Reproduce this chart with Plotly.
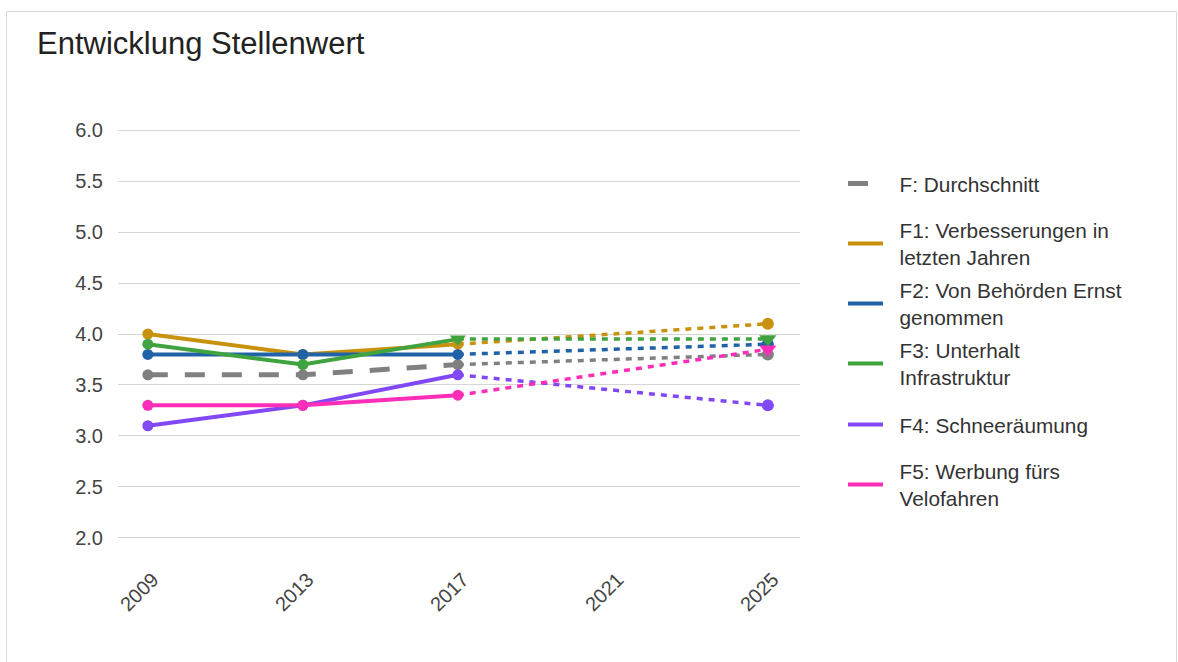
import plotly.graph_objects as go

# ---- data ----
years = [2009, 2013, 2017]
proj_year = 2025
tick_years = [2009, 2013, 2017, 2021, 2025]

series_names = [
    "F: Durchschnitt",
    "F1: Verbesserungen in<br>letzten Jahren",
    "F2: Von Behörden Ernst<br>genommen",
    "F3: Unterhalt<br>Infrastruktur",
    "F4: Schneeräumung",
    "F5: Werbung fürs<br>Velofahren",
]
f_avg = [3.6, 3.6, 3.7]
f1 = [4.0, 3.8, 3.9]
f2 = [3.8, 3.8, 3.8]
f3 = [3.9, 3.7, 3.95]
f4 = [3.1, 3.3, 3.6]
f5 = [3.3, 3.3, 3.4]
proj_2025 = [3.8, 4.1, 3.9, 3.95, 3.3, 3.85]

values = [f_avg, f1, f2, f3, f4, f5]

# ---- styles ----
colors = ["#808080", "#c9920e", "#1f62a8", "#3fa33f", "#8148f5", "#ff2db8"]
obs_symbols = [
    ["circle"] * 3,
    ["circle"] * 3,
    ["circle"] * 3,
    ["circle", "circle", "triangle-down"],
    ["circle"] * 3,
    ["circle"] * 3,
]
proj_symbols = ["circle", "circle", "circle", "triangle-down", "circle", "triangle-down"]
line_dash = ["20px,17px", "solid", "solid", "solid", "solid", "solid"]
line_width = [5, 4, 4, 4, 4, 4]

# plot area geometry (px)
W, H = 1178, 662
L, R, T, B = 118, 800, 125, 543
legend_centers = [184, 244, 304, 364, 425, 485]
pad = "\u00a0\u00a0"


def sym_size(s):
    return 11 if s == "circle" else 14


fig = go.Figure()

# dotted projection segments
for i in range(len(series_names)):
    fig.add_trace(go.Scatter(
        x=[years[-1], proj_year],
        y=[values[i][-1], proj_2025[i]],
        mode="lines",
        line=dict(color=colors[i], width=3.5, dash="6px,6px"),
        showlegend=False,
        hoverinfo="skip",
    ))

# observed solid lines (legend entries)
for i, name in enumerate(series_names):
    leg = "legend" if i == 0 else f"legend{i + 1}"
    label = "<br>".join(pad + part for part in name.split("<br>"))
    fig.add_trace(go.Scatter(
        x=years,
        y=values[i],
        name=label,
        mode="lines",
        line=dict(color=colors[i], width=line_width[i], dash=line_dash[i]),
        legend=leg,
    ))

# markers
for i in range(len(series_names)):
    fig.add_trace(go.Scatter(
        x=years + [proj_year],
        y=values[i] + [proj_2025[i]],
        mode="markers",
        marker=dict(
            size=[sym_size(s) for s in obs_symbols[i]] + [sym_size(proj_symbols[i]) + 1],
            symbol=obs_symbols[i] + [proj_symbols[i]],
            color=colors[i],
            opacity=1,
            line=dict(width=0),
        ),
        showlegend=False,
    ))

font_family = "Liberation Sans, Arial, Helvetica, sans-serif"

layout_legends = {}
for i in range(len(series_names)):
    key = "legend" if i == 0 else f"legend{i + 1}"
    layout_legends[key] = dict(
        x=(843 - L) / (R - L),
        xanchor="left",
        y=(B - legend_centers[i]) / (B - T),
        yanchor="middle",
        font=dict(size=20.8, color="#333333", family=font_family),
        bgcolor="rgba(0,0,0,0)",
        itemwidth=35,
        itemclick=False,
    )

fig.update_layout(
    width=W,
    height=H,
    margin=dict(l=L, r=W - R, t=T, b=H - B, pad=0),
    paper_bgcolor="white",
    plot_bgcolor="white",
    font=dict(family=font_family, color="#444444"),
    title=dict(
        text="Entwicklung Stellenwert",
        x=37 / W,
        xref="container",
        xanchor="left",
        y=1 - 43 / H,
        yref="container",
        yanchor="middle",
        font=dict(size=31, color="#222222", family=font_family),
    ),
    xaxis=dict(
        range=[2008.23, 2025.83],
        tickmode="array",
        tickvals=tick_years,
        ticktext=[str(y) for y in tick_years],
        tickangle=-45,
        showgrid=False,
        zeroline=False,
        showline=False,
        tickfont=dict(size=20, color="#444444"),
        ticklabelstandoff=20,
        ticklabelshift=5,
    ),
    yaxis=dict(
        range=[1.95, 6.05],
        tickmode="array",
        tickvals=[2.0, 2.5, 3.0, 3.5, 4.0, 4.5, 5.0, 5.5, 6.0],
        ticktext=["2.0", "2.5", "3.0", "3.5", "4.0", "4.5", "5.0", "5.5", "6.0"],
        showgrid=True,
        gridcolor="#d6d6d6",
        gridwidth=1.2,
        zeroline=False,
        showline=False,
        tickfont=dict(size=20, color="#444444"),
        ticklabelstandoff=14,
    ),
    shapes=[dict(
        type="rect",
        xref="paper", yref="paper",
        x0=(6.5 - L) / (R - L), x1=(1176.5 - L) / (R - L),
        y0=(B - 700) / (B - T), y1=(B - 11.5) / (B - T),
        line=dict(color="#d9d9d9", width=1),
        fillcolor="rgba(0,0,0,0)",
        layer="below",
    )],
    **layout_legends,
)

fig.write_html(
    "out.html",
    config={"displayModeBar": False},
    post_script="document.body.style.margin='0';",
)
